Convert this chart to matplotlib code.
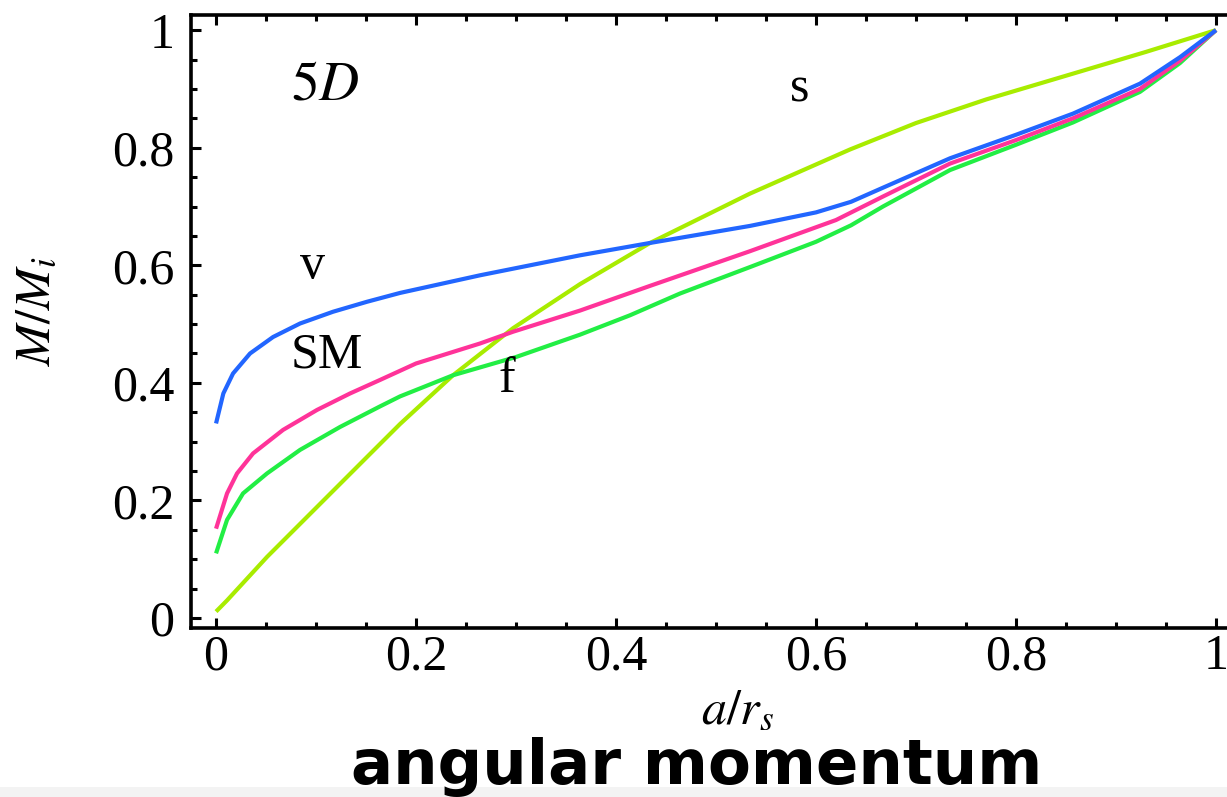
import matplotlib
matplotlib.use("Agg")
import matplotlib.pyplot as plt
from matplotlib.patches import Rectangle
from matplotlib.ticker import MultipleLocator

# values (a/r_s, M/M_i)
x_s = [0.0, 0.011, 0.051, 0.101, 0.151, 0.184, 0.237, 0.297, 0.364, 0.434, 0.534, 0.634, 0.70, 0.77, 0.857, 0.93, 1.0]
y_s = [0.011, 0.03, 0.104, 0.189, 0.274, 0.33, 0.413, 0.493, 0.568, 0.638, 0.722, 0.797, 0.842, 0.882, 0.926, 0.963, 1.0]

x_v = [0.0, 0.0073, 0.017, 0.034, 0.057, 0.084, 0.117, 0.151, 0.184, 0.264, 0.364, 0.434, 0.534, 0.60, 0.635, 0.667, 0.734, 0.80, 0.857, 0.924, 0.964, 1.0]
y_v = [0.331, 0.382, 0.416, 0.45, 0.478, 0.501, 0.521, 0.538, 0.553, 0.583, 0.617, 0.638, 0.667, 0.69, 0.708, 0.732, 0.782, 0.822, 0.858, 0.909, 0.954, 1.0]

x_sm = [0.0, 0.011, 0.021, 0.037, 0.067, 0.101, 0.134, 0.164, 0.20, 0.264, 0.297, 0.364, 0.434, 0.534, 0.62, 0.667, 0.734, 0.80, 0.857, 0.924, 0.964, 1.0]
y_sm = [0.152, 0.212, 0.246, 0.28, 0.32, 0.354, 0.382, 0.405, 0.433, 0.467, 0.487, 0.523, 0.565, 0.624, 0.677, 0.717, 0.773, 0.813, 0.85, 0.90, 0.948, 1.0]

x_f = [0.0, 0.011, 0.027, 0.051, 0.084, 0.124, 0.164, 0.184, 0.237, 0.30, 0.364, 0.414, 0.464, 0.534, 0.60, 0.635, 0.667, 0.734, 0.80, 0.857, 0.924, 0.964, 1.0]
y_f = [0.11, 0.167, 0.212, 0.246, 0.286, 0.325, 0.36, 0.377, 0.413, 0.444, 0.482, 0.515, 0.552, 0.597, 0.64, 0.668, 0.70, 0.762, 0.805, 0.843, 0.895, 0.944, 1.0]

series = [
    ("s", x_s, y_s, "#a8ec00"),
    ("f", x_f, y_f, "#22ee44"),
    ("SM", x_sm, y_sm, "#ff3399"),
    ("v", x_v, y_v, "#2266ff"),
]

curve_labels = [("s", 0.584, 0.90), ("v", 0.096, 0.60), ("SM", 0.111, 0.447), ("f", 0.291, 0.405)]

plt.rcParams.update({
    "font.family": "Liberation Serif",
    "mathtext.fontset": "stix",
    "font.size": 36,
})

fig = plt.figure(figsize=(12.27, 7.97), dpi=100)
ax = fig.add_axes([0.1557, 0.212, 0.8557, 0.769])

for name, xs, ys, col in series:
    ax.plot(xs, ys, color=col, lw=3.0, solid_joinstyle="round", solid_capstyle="butt")

ax.set_xlim(-0.025, 1.025)
ax.set_ylim(-0.017, 1.0255)


def tick_fmt(v, pos):
    if abs(v) < 1e-9:
        return "0"
    if abs(v - 1) < 1e-9:
        return "1"
    return f"{v:.1f}"


ax.xaxis.set_major_locator(MultipleLocator(0.2))
ax.xaxis.set_minor_locator(MultipleLocator(0.05))
ax.yaxis.set_major_locator(MultipleLocator(0.2))
ax.yaxis.set_minor_locator(MultipleLocator(0.05))
ax.xaxis.set_major_formatter(plt.FuncFormatter(tick_fmt))
ax.yaxis.set_major_formatter(plt.FuncFormatter(tick_fmt))

for sp in ax.spines.values():
    sp.set_linewidth(2.6)
ax.tick_params(which="both", direction="in", top=True, right=True, width=2.2)
ax.tick_params(which="major", length=7, labelsize=36)
ax.tick_params(axis="y", which="major", pad=12)
ax.tick_params(axis="x", which="major", pad=4)
ax.tick_params(which="minor", length=4.5)

for txt, xv, yv in curve_labels:
    ax.text(xv, yv, txt, fontsize=36, ha="center", va="center")
ax.text(0.109, 0.906, "$5D$", fontsize=40, ha="center", va="center")

fig.text(0.030, 0.61, "$M/M_i$", rotation=90, fontsize=36, ha="center", va="center")
fig.text(0.601, 0.108, "$a/r_s$", fontsize=36, ha="center", va="center")
fig.text(0.568, 0.038, "angular momentum", fontsize=45, fontweight="bold",
         family="DejaVu Sans", ha="center", va="center")

fig.patches.append(Rectangle((0, 0), 1, 0.013, transform=fig.transFigure,
                             facecolor="#f3f3f3", edgecolor="none", zorder=-1))

fig.savefig("out.png", dpi=100)
